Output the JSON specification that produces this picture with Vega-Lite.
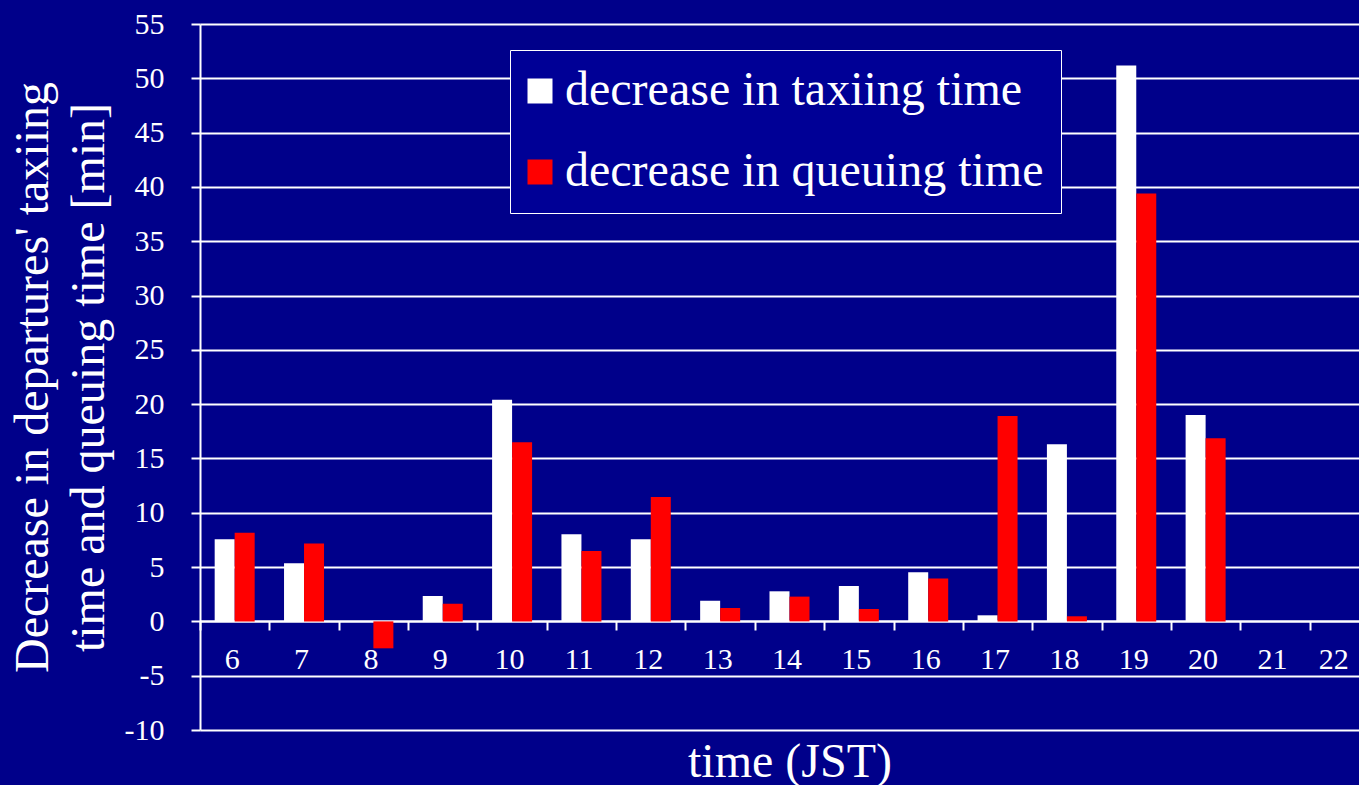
{
  "$schema": "https://vega.github.io/schema/vega-lite/v6.json",
  "width": 1159,
  "height": 706,
  "autosize": "none",
  "padding": {"left": 200, "top": 24, "right": 0, "bottom": 55},
  "background": "#00008a",
  "config": {"font": "Liberation Serif", "view": {"stroke": null}},
  "data": {
    "values": [
      {"hour": 6, "series": "decrease in taxiing time", "value": 7.56},
      {"hour": 6, "series": "decrease in queuing time", "value": 8.17},
      {"hour": 7, "series": "decrease in taxiing time", "value": 5.35},
      {"hour": 7, "series": "decrease in queuing time", "value": 7.16},
      {"hour": 8, "series": "decrease in taxiing time", "value": 0},
      {"hour": 8, "series": "decrease in queuing time", "value": -2.48},
      {"hour": 9, "series": "decrease in taxiing time", "value": 2.34},
      {"hour": 9, "series": "decrease in queuing time", "value": 1.63},
      {"hour": 10, "series": "decrease in taxiing time", "value": 20.4},
      {"hour": 10, "series": "decrease in queuing time", "value": 16.5},
      {"hour": 11, "series": "decrease in taxiing time", "value": 8.02},
      {"hour": 11, "series": "decrease in queuing time", "value": 6.48},
      {"hour": 12, "series": "decrease in taxiing time", "value": 7.56},
      {"hour": 12, "series": "decrease in queuing time", "value": 11.46},
      {"hour": 13, "series": "decrease in taxiing time", "value": 1.91},
      {"hour": 13, "series": "decrease in queuing time", "value": 1.23},
      {"hour": 14, "series": "decrease in taxiing time", "value": 2.77},
      {"hour": 14, "series": "decrease in queuing time", "value": 2.28},
      {"hour": 15, "series": "decrease in taxiing time", "value": 3.26},
      {"hour": 15, "series": "decrease in queuing time", "value": 1.14},
      {"hour": 16, "series": "decrease in taxiing time", "value": 4.52},
      {"hour": 16, "series": "decrease in queuing time", "value": 3.94},
      {"hour": 17, "series": "decrease in taxiing time", "value": 0.56},
      {"hour": 17, "series": "decrease in queuing time", "value": 18.92},
      {"hour": 18, "series": "decrease in taxiing time", "value": 16.31},
      {"hour": 18, "series": "decrease in queuing time", "value": 0.47},
      {"hour": 19, "series": "decrease in taxiing time", "value": 51.18},
      {"hour": 19, "series": "decrease in queuing time", "value": 39.4},
      {"hour": 20, "series": "decrease in taxiing time", "value": 19.01},
      {"hour": 20, "series": "decrease in queuing time", "value": 16.86}
    ]
  },
  "mark": {"type": "bar"},
  "encoding": {
    "x": {
      "field": "hour",
      "type": "ordinal",
      "scale": {
        "domain": [6, 7, 8, 9, 10, 11, 12, 13, 14, 15, 16, 17, 18, 19, 20, 21, 22],
        "range": [0, 1179],
        "paddingInner": 0,
        "paddingOuter": 0
      },
      "axis": {
        "title": "time (JST)",
        "offset": -109,
        "labelAngle": 0,
        "labelFontSize": 30,
        "labelColor": "white",
        "labelPadding": 14,
        "labelOffset": {"condition": {"test": "datum.value == 22", "value": -11}, "value": -3},
        "tickBand": "extent",
        "tickSize": 9,
        "tickColor": "white",
        "tickWidth": 2,
        "domainColor": "white",
        "domainWidth": 2,
        "grid": false,
        "titleFontSize": 48,
        "titleColor": "white",
        "titleFontWeight": "normal",
        "titlePadding": 64
      }
    },
    "xOffset": {
      "field": "series",
      "type": "nominal",
      "sort": ["decrease in taxiing time", "decrease in queuing time"],
      "scale": {"paddingInner": 0, "paddingOuter": 0.734}
    },
    "y": {
      "field": "value",
      "type": "quantitative",
      "scale": {"domain": [-10, 55], "nice": false, "zero": false},
      "axis": {
        "values": [-10, -5, 0, 5, 10, 15, 20, 25, 30, 35, 40, 45, 50, 55],
        "labelExpr": "datum.value + ''",
        "title": ["Decrease in departures' taxiing", "time and queuing time [min]"],
        "grid": true,
        "gridColor": "white",
        "gridWidth": 2,
        "domainColor": "white",
        "domainWidth": 2,
        "tickColor": "white",
        "tickSize": 9,
        "tickWidth": 2,
        "labelColor": "white",
        "labelFontSize": 30,
        "labelPadding": 27,
        "titleFontSize": 48,
        "titleColor": "white",
        "titleFontWeight": "normal",
        "titleLineHeight": 56,
        "titlePadding": 11
      }
    },
    "color": {
      "field": "series",
      "type": "nominal",
      "sort": ["decrease in taxiing time", "decrease in queuing time"],
      "scale": {
        "domain": ["decrease in taxiing time", "decrease in queuing time"],
        "range": ["#ffffff", "#ff0000"]
      },
      "legend": {
        "title": null,
        "orient": "none",
        "legendX": 310,
        "legendY": 26,
        "symbolType": "square",
        "symbolSize": 625,
        "symbolStrokeWidth": 0,
        "symbolOffset": -11,
        "labelFontSize": 48,
        "labelColor": "white",
        "labelLimit": 700,
        "labelOffset": 1,
        "rowPadding": 33,
        "padding": 17,
        "strokeColor": "white",
        "fillColor": "#000096"
      }
    }
  }
}
